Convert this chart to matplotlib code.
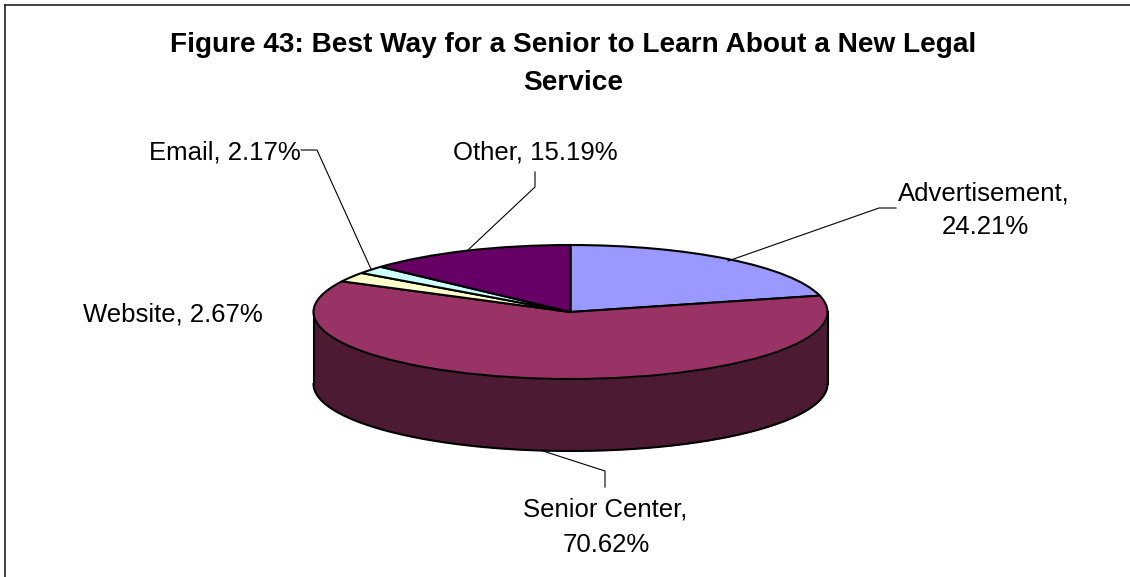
import numpy as np
import matplotlib
matplotlib.use('Agg')
import matplotlib.pyplot as plt

plt.rcParams['font.family'] = ['Liberation Sans', 'DejaVu Sans']

# Data
categories = ['Advertisement', 'Senior Center', 'Website', 'Email', 'Other']
values = [24.21, 70.62, 2.67, 2.17, 15.19]
colors = ['#9999FF', '#993366', '#FFFFCC', '#CCFFFF', '#660066']
side_color = '#4C1A33'
title_lines = ['Figure 43: Best Way for a Senior to Learn About a New Legal', 'Service']

# Geometry (pixels)
W, H = 1130, 577
cx, cy = 570.5, 312
rx, ry = 257, 67
depth = 72

fig = plt.figure(figsize=(W / 100, H / 100), dpi=100)

# Pie axes: one unit is rx / ry pixels, so the circle comes out flat
ax = fig.add_axes([0, 0, 1, 1])
ax.pie(values, colors=colors, startangle=90, counterclock=False, radius=1,
       wedgeprops={'edgecolor': 'black', 'linewidth': 1.5, 'zorder': 3})
ax.set_aspect('auto')
ax.set_xlim(-cx / rx, (W - cx) / rx)
ax.set_ylim(-(H - cy) / ry, cy / ry)
ax.axis('off')

# Side wall
theta = np.linspace(np.pi, 2 * np.pi, 300)
xs = np.cos(theta)
ax.fill_between(xs, np.sin(theta), np.sin(theta) - depth / ry, color=side_color, zorder=1, lw=0)
ax.plot(xs, np.sin(theta) - depth / ry, color='black', lw=1.5, zorder=2)
for side in (-1, 1):
    ax.plot([side, side], [0, -depth / ry], color='black', lw=1.5, zorder=2)

# Overlay in pixel coordinates for text and leader lines
ov = fig.add_axes([0, 0, 1, 1])
ov.set_xlim(0, W)
ov.set_ylim(H, 0)
ov.axis('off')
ov.patch.set_alpha(0)

ov.plot([5, 5], [H, 5], color='#222222', lw=1.2)
ov.plot([5, W], [5, 5], color='#222222', lw=1.2)

ov.text(573, 42.5, title_lines[0], ha='center', va='center_baseline', fontsize=20.2, fontweight='bold')
ov.text(573, 80.5, title_lines[1], ha='center', va='center_baseline', fontsize=20.2, fontweight='bold')

fs = 18.5
ov.text(149, 150, 'Email, 2.17%', ha='left', va='center_baseline', fontsize=fs)
ov.text(453, 150, 'Other, 15.19%', ha='left', va='center_baseline', fontsize=fs)
ov.text(83, 312, 'Website, 2.67%', ha='left', va='center_baseline', fontsize=fs)
ov.text(984, 190.5, 'Advertisement,', ha='center', va='center_baseline', fontsize=fs)
ov.text(985, 225, '24.21%', ha='center', va='center_baseline', fontsize=fs)
ov.text(605, 507, 'Senior Center,', ha='center', va='center_baseline', fontsize=fs)
ov.text(606, 542, '70.62%', ha='center', va='center_baseline', fontsize=fs)

leaders = [
    ([301, 317, 371], [150, 150, 269]),
    ([535, 535, 468], [172, 187, 250]),
    ([896, 879, 728], [208, 208, 261]),
    ([543, 605, 605], [451, 471, 487]),
]
for lx, ly in leaders:
    ov.plot(lx, ly, color='black', lw=0.8)

fig.savefig('out.png', dpi=100)
